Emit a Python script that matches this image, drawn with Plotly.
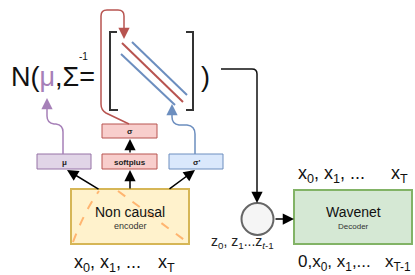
import plotly.graph_objects as go

# ---- text content ----
formula_text = ["N(", "μ", ",Σ="]
inverse_mark = "-1"
close_paren = ")"
head_labels = ["μ", "softplus", "σ'"]
sigma_label = "σ"
block_titles = ["Non causal", "Wavenet"]
block_subtitles = ["encoder", "Decoder"]
enc_inputs = ["x<sub>0</sub>, x<sub>1</sub>, ...", "x<sub>T</sub>"]
dec_outputs = ["x<sub>0</sub>, x<sub>1</sub>, ...", "x<sub>T</sub>"]
dec_inputs = ["0,x<sub>0</sub>, x<sub>1</sub>,...", "x<sub>T-1</sub>"]
latent_label = "z<sub>0</sub>, z<sub>1</sub>...z<sub><i>t</i>-1</sub>"

# ---- geometry (pixel space of the 415x275 canvas) ----
head_x0 = [37, 102, 169]
head_x1 = [91, 157, 223]
head_y = [154, 169]
sigma_box = [102, 124, 157, 138]
enc_box = [71, 189, 189, 244]
dec_box = [294, 190, 412, 244]
circle_c = [257.5, 219]
circle_r = 16

# colours
PURPLE_F, PURPLE_L = "#e1d5e7", "#9673a6"
RED_F, RED_L = "#f8cecc", "#b85450"
BLUE_F, BLUE_L = "#dae8fc", "#6c8ebf"
head_fill = [PURPLE_F, RED_F, BLUE_F]
head_line = [PURPLE_L, RED_L, BLUE_L]
FONT = "Liberation Sans, Arial, sans-serif"

fig = go.Figure()
shapes = []
ann = []

def arrow(tip, tail, color="#000", w=1.5):
    ann.append(dict(x=tip[0], y=tip[1], ax=tail[0], ay=tail[1], xref="x", yref="y",
                    axref="x", ayref="y", text="", showarrow=True, arrowhead=2,
                    arrowsize=1.5, arrowwidth=w, arrowcolor=color, standoff=0, startstandoff=0))

# small head boxes
for i, lab in enumerate(head_labels):
    shapes.append(dict(type="rect", x0=head_x0[i], x1=head_x1[i], y0=head_y[0], y1=head_y[1],
                       fillcolor=head_fill[i], line=dict(color=head_line[i], width=1)))
    ann.append(dict(x=(head_x0[i] + head_x1[i]) / 2, y=(head_y[0] + head_y[1]) / 2 + 0.5, text="<b>%s</b>" % lab,
                    showarrow=False, font=dict(size=8, color="#222", family=FONT)))
shapes.append(dict(type="rect", x0=sigma_box[0], x1=sigma_box[2], y0=sigma_box[1], y1=sigma_box[3],
                   fillcolor=RED_F, line=dict(color=RED_L, width=1)))
ann.append(dict(x=(sigma_box[0] + sigma_box[2]) / 2, y=(sigma_box[1] + sigma_box[3]) / 2 + 0.5,
                text="<b>%s</b>" % sigma_label, showarrow=False, font=dict(size=8, color="#222", family=FONT)))

# encoder block
shapes.append(dict(type="rect", x0=enc_box[0], y0=enc_box[1], x1=enc_box[2], y1=enc_box[3],
                   fillcolor="#fff2cc", line=dict(color="#d6b656", width=2)))
shapes.append(dict(type="path", path="M 73 242 Q 84 212 99 191",
                   line=dict(color="#FFB570", width=2, dash="dash")))
shapes.append(dict(type="path", path="M 118 191 L 187 242",
                   line=dict(color="#FFB570", width=2, dash="dash")))
ann.append(dict(x=130, y=212, text=block_titles[0], showarrow=False, font=dict(size=14, color="#111", family=FONT)))
ann.append(dict(x=130, y=226, text=block_subtitles[0], showarrow=False, font=dict(size=9, color="#333", family=FONT)))

# decoder block
shapes.append(dict(type="rect", x0=dec_box[0], y0=dec_box[1], x1=dec_box[2], y1=dec_box[3],
                   fillcolor="#d5e8d4", line=dict(color="#82b366", width=2)))
ann.append(dict(x=353, y=212, text=block_titles[1], showarrow=False, font=dict(size=14, color="#111", family=FONT)))
ann.append(dict(x=353, y=226, text=block_subtitles[1], showarrow=False, font=dict(size=8, color="#333", family=FONT)))

# circle
shapes.append(dict(type="circle", x0=circle_c[0] - circle_r, x1=circle_c[0] + circle_r,
                   y0=circle_c[1] - circle_r, y1=circle_c[1] + circle_r,
                   fillcolor="#f5f5f5", line=dict(color="#666", width=2)))

# encoder -> heads arrows
arrow((67, 170), (100, 190))
arrow((130, 170), (130, 190))
arrow((195, 170), (168, 190))
arrow((130, 139), (130, 154))

# matrix brackets
shapes.append(dict(type="path", path="M 117 32 L 110 32 L 110 110 L 118 110", line=dict(color="#333", width=2)))
shapes.append(dict(type="path", path="M 186 32 L 193 32 L 193 110 L 186 110", line=dict(color="#333", width=2)))
# diagonals
shapes.append(dict(type="line", x0=132, y0=42, x1=187, y1=95, line=dict(color=BLUE_L, width=2)))
shapes.append(dict(type="line", x0=122, y0=43, x1=183, y1=102, line=dict(color=RED_L, width=2)))
shapes.append(dict(type="line", x0=121, y0=54, x1=175, y1=105, line=dict(color=BLUE_L, width=2)))

# red path sigma -> diagonal
shapes.append(dict(type="path", path="M 129 124 L 106 113 Q 101 110 101 104 L 101 16 Q 101 10 107 10 L 118 10 Q 124 10 124 16 L 124 30",
                   line=dict(color=RED_L, width=1.5)))
arrow((124, 39), (124, 29), RED_L)
# blue path sigma' -> diagonal
shapes.append(dict(type="path", path="M 195 154 L 195 134 Q 195 126 187 125 L 179 125 Q 172 124 172 117 L 172 112",
                   line=dict(color=BLUE_L, width=1.5)))
arrow((172, 104), (172, 113), BLUE_L)
# purple path mu -> formula
shapes.append(dict(type="path", path="M 63 154 L 63 132 Q 63 125 56 124 L 54 124 Q 47 123 47 116 L 47 107",
                   line=dict(color="#A680B8", width=1.5)))
arrow((47, 98), (47, 108), "#A680B8")

# ) -> circle
shapes.append(dict(type="path", path="M 221 69 L 252 69 Q 257 69 257 74 L 257 194",
                   line=dict(color="#111", width=1.5)))
arrow((257, 203), (257, 193))
# circle -> decoder
arrow((294, 219), (274, 219))

# formula text
ann.append(dict(x=9, y=77, xanchor="left", text="%s<span style='color:#A680B8'>%s</span>%s" % tuple(formula_text),
                showarrow=False, font=dict(size=27, color="#111", family=FONT)))
ann.append(dict(x=77, y=56, xanchor="left", text=inverse_mark, showarrow=False,
                font=dict(size=10, color="#111", family=FONT)))
ann.append(dict(x=199, y=77, xanchor="left", text=close_paren, showarrow=False,
                font=dict(size=27, color="#111", family=FONT)))

# sequence labels
SEQ = 18
ann.append(dict(x=72, y=263, xanchor="left", text=enc_inputs[0], showarrow=False, font=dict(size=SEQ, color="#111", family=FONT)))
ann.append(dict(x=156, y=263, xanchor="left", text=enc_inputs[1], showarrow=False, font=dict(size=SEQ, color="#111", family=FONT)))
ann.append(dict(x=296, y=174, xanchor="left", text=dec_outputs[0], showarrow=False, font=dict(size=SEQ, color="#111", family=FONT)))
ann.append(dict(x=389, y=174, xanchor="left", text=dec_outputs[1], showarrow=False, font=dict(size=SEQ, color="#111", family=FONT)))
ann.append(dict(x=296, y=263, xanchor="left", text=dec_inputs[0], showarrow=False, font=dict(size=17, color="#111", family=FONT)))
ann.append(dict(x=383, y=263, xanchor="left", text=dec_inputs[1], showarrow=False, font=dict(size=17, color="#111", family=FONT)))
ann.append(dict(x=209, y=242, xanchor="left", text=latent_label, showarrow=False, font=dict(size=14, color="#222", family=FONT)))

fig.update_layout(
    width=415, height=275, margin=dict(l=0, r=0, t=0, b=0),
    paper_bgcolor="white", plot_bgcolor="white",
    xaxis=dict(range=[0, 415], visible=False, fixedrange=True),
    yaxis=dict(range=[275, 0], visible=False, fixedrange=True),
    shapes=shapes, annotations=ann, showlegend=False,
)
fig.write_html("out.html", config={"displayModeBar": False},
               post_script="document.body.style.margin='0';document.body.style.overflow='hidden';")
